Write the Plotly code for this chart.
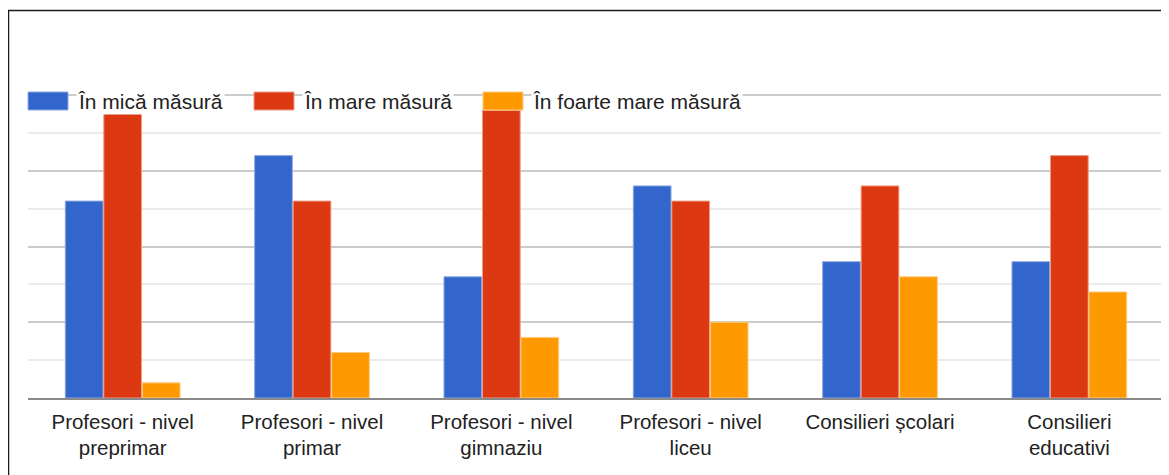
import plotly.graph_objects as go

categories = [
    "Profesori - nivel<br>preprimar",
    "Profesori - nivel<br>primar",
    "Profesori - nivel<br>gimnaziu",
    "Profesori - nivel<br>liceu",
    "Consilieri școlari",
    "Consilieri<br>educativi",
]
series_names = ["În mică măsură", "În mare măsură", "În foarte mare măsură"]
mica = [13, 16, 8, 14, 9, 9]
mare = [19, 13, 19, 13, 14, 16]
foarte_mare = [1, 3, 4, 5, 8, 7]
colors = ["#3366cc", "#dc3912", "#ff9900"]
border_colors = ["#8fa8e0", "#ee9c88", "#ffcc80"]

OFF = 8  # page body margin
W, H = 1169 - OFF, 475 - OFF
ML, MR, MT, MB = 28 - OFF, 5, 92 - OFF, 77
PW, PH = W - ML - MR, H - MT - MB


def px_x(x):
    return (x - OFF - ML) / PW


def px_y(y):
    return (H - MB - (y - OFF)) / PH


fig = go.Figure()
for name, vals, c, bc in zip(series_names, [mica, mare, foarte_mare], colors, border_colors):
    fig.add_trace(go.Bar(
        x=categories, y=vals, name=name,
        marker=dict(color=c, line=dict(color=bc, width=1)),
        showlegend=False,
    ))

# custom legend (wide swatches like the original)
legend_swatch_x = [28, 254, 483]
shapes = []
annotations = []
for name, c, bc, sx in zip(series_names, colors, border_colors, legend_swatch_x):
    shapes.append(dict(
        type="rect", xref="paper", yref="paper",
        x0=px_x(sx), x1=px_x(sx + 40), y0=px_y(110), y1=px_y(92),
        fillcolor=c, line=dict(color=bc, width=1), layer="above",
    ))
    annotations.append(dict(
        text=name, xref="paper", yref="paper",
        x=px_x(sx + 48), y=px_y(101), xanchor="left", yanchor="middle",
        showarrow=False, font=dict(family="Liberation Sans, Arial", size=21, color="#222222"),
        bgcolor="white", borderpad=1,
    ))

# outer frame (left and top edges visible)
shapes.append(dict(
    type="line", xref="paper", yref="paper",
    x0=px_x(8.5), x1=px_x(8.5), y0=px_y(10), y1=px_y(480),
    line=dict(color="#1a1a1a", width=1.5),
))
shapes.append(dict(
    type="line", xref="paper", yref="paper",
    x0=px_x(8), x1=px_x(1175), y0=px_y(10.5), y1=px_y(10.5),
    line=dict(color="#1a1a1a", width=1.5),
))

fig.update_layout(
    width=W, height=H,
    margin=dict(l=ML, r=MR, t=MT, b=MB, pad=0),
    paper_bgcolor="white", plot_bgcolor="white",
    barmode="group", bargap=0.39, bargroupgap=0.02,
    font=dict(family="Liberation Sans, Arial", size=20, color="#222222"),
    shapes=shapes, annotations=annotations,
    showlegend=False,
)
fig.update_yaxes(
    range=[0, 20.2], dtick=5, showticklabels=False, ticks="",
    showgrid=True, gridcolor="#cccccc", gridwidth=1.5,
    minor=dict(dtick=2.5, showgrid=True, gridcolor="#ebebeb", gridwidth=1.5),
    zeroline=False, showline=False, fixedrange=True,
)
fig.update_xaxes(
    showline=True, linecolor="#8a8a8a", linewidth=2,
    ticks="outside", ticklen=4, tickcolor="rgba(0,0,0,0)",
    tickfont=dict(family="Liberation Sans, Arial", size=20.5, color="#222222"),
    showgrid=False, fixedrange=True,
)

fig.write_html("out.html")
